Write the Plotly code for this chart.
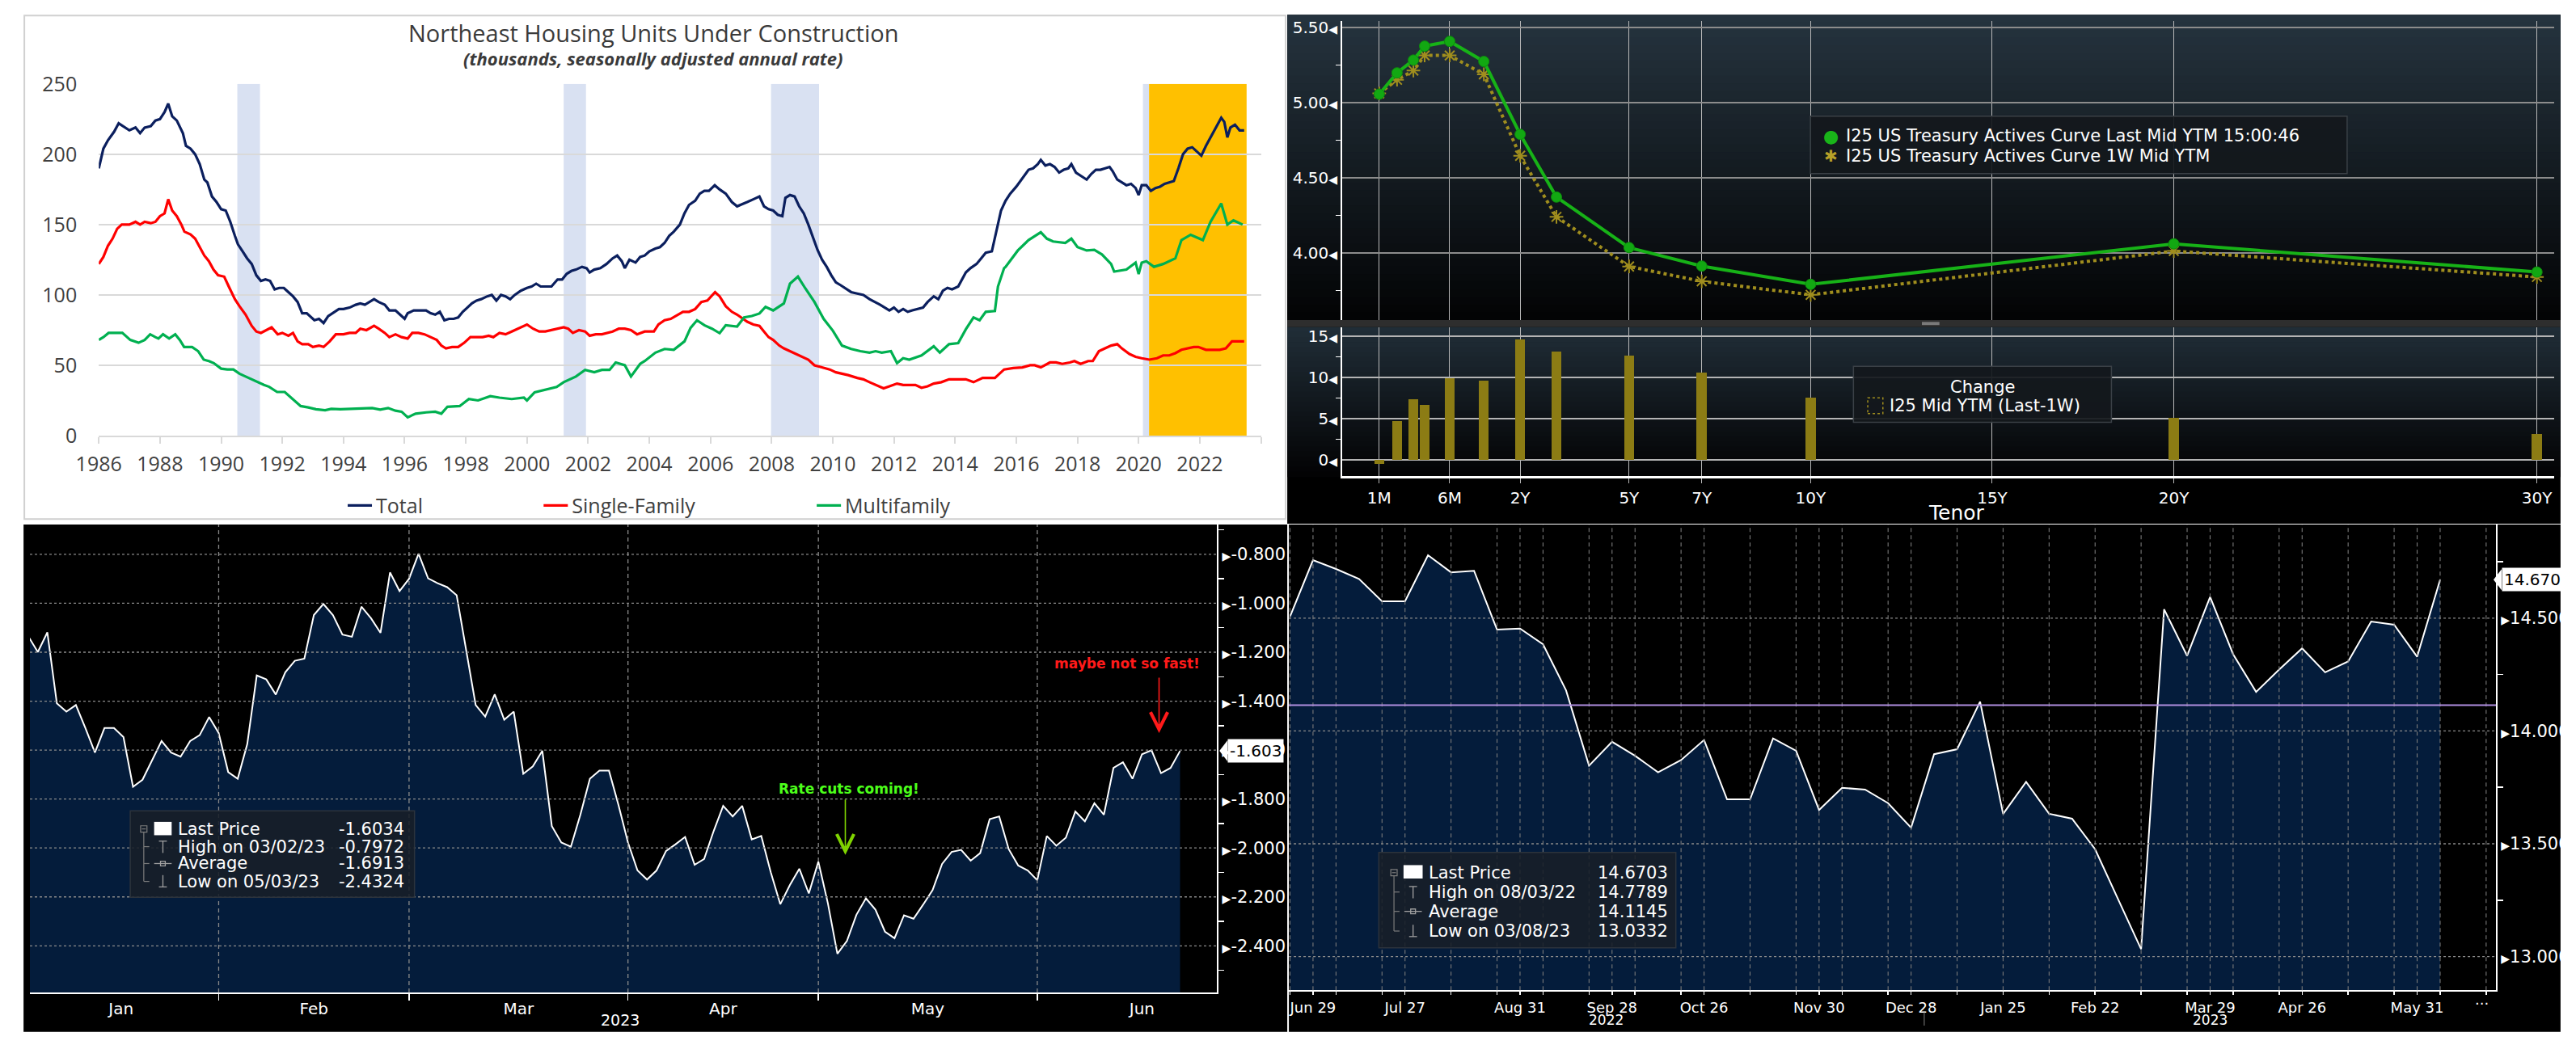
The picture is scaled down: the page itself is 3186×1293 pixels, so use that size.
import plotly.graph_objects as go
import pandas as pd

W, H = 3186, 1293          # size of the photographed window
OFF = 8                    # default page margin of the html body
WF, HF = W - 2 * OFF, H - 2 * OFF
BB = "DejaVu Sans"
XL = "Open Sans"

# ---------------- Panel 1 data: Northeast housing units under construction ----------------
total_pts = [(1986.0,190),(1986.15,204),(1986.3,210),(1986.5,216),(1986.65,222),(1986.8,220),(1987.0,217),(1987.2,219),
 (1987.35,215),(1987.5,219),(1987.7,220),(1987.85,224),(1988.0,225),(1988.15,230),(1988.27,236),(1988.4,227),(1988.55,224),
 (1988.75,215),(1988.85,206),(1989.0,204),(1989.15,200),(1989.3,193),(1989.45,182),(1989.55,180),(1989.7,170),(1989.85,166),
 (1990.0,161),(1990.15,160),(1990.3,152),(1990.45,142),(1990.55,136),(1990.7,131),(1990.85,126),(1991.0,122),(1991.15,114),
 (1991.3,110),(1991.45,111),(1991.6,110),(1991.75,104),(1991.9,105),(1992.05,105),(1992.2,102),(1992.35,99),(1992.5,95),
 (1992.65,87),(1992.8,87),(1992.95,84),(1993.05,82),(1993.2,83),(1993.35,80),(1993.5,85),(1993.7,88),(1993.85,90),(1994.0,90),
 (1994.2,91),(1994.4,93),(1994.55,94),(1994.7,93),(1994.85,95),(1995.0,97),(1995.15,95),(1995.35,93),(1995.5,89),(1995.7,89),
 (1995.85,86),(1996.0,83),(1996.1,87),(1996.3,89),(1996.5,89),(1996.7,89),(1996.85,87),(1997.0,86),(1997.15,88),(1997.3,82),
 (1997.45,83),(1997.6,83),(1997.75,84),(1997.9,88),(1998.05,91),(1998.2,94),(1998.35,96),(1998.5,97),(1998.7,99),(1998.85,100),
 (1999.0,96),(1999.15,100),(1999.3,99),(1999.45,97),(1999.6,100),(1999.8,103),(2000.0,105),(2000.15,106),(2000.3,108),
 (2000.45,106),(2000.6,106),(2000.8,106),(2001.0,111),(2001.15,111),(2001.3,115),(2001.45,117),(2001.6,118),(2001.8,120),
 (2001.95,119),(2002.05,116),(2002.2,118),(2002.4,119),(2002.6,122),(2002.8,126),(2002.95,128),(2003.1,124),(2003.2,119),
 (2003.35,125),(2003.55,123),(2003.7,127),(2003.85,128),(2004.0,131),(2004.2,133),(2004.35,134),(2004.5,137),(2004.65,142),
 (2004.8,145),(2005.0,150),(2005.15,158),(2005.3,164),(2005.5,167),(2005.65,172),(2005.8,174),(2005.95,174),(2006.14,178),
 (2006.3,175),(2006.5,172),(2006.7,166),(2006.87,163),(2007.0,164),(2007.2,166),(2007.4,168),(2007.6,170),(2007.75,163),
 (2007.9,161),(2008.05,160),(2008.2,157),(2008.35,156),(2008.45,169),(2008.6,171),(2008.75,170),(2008.9,163),(2009.05,158),
 (2009.2,150),(2009.35,141),(2009.5,132),(2009.65,125),(2009.8,120),(2009.95,114),(2010.1,109),(2010.25,107),(2010.4,105),
 (2010.6,102),(2010.8,101),(2011.0,100),(2011.2,97),(2011.4,95),(2011.55,93),(2011.7,91),(2011.85,89),(2012.0,91),(2012.15,88),
 (2012.3,90),(2012.45,88),(2012.6,89),(2012.8,90),(2012.95,91),(2013.1,95),(2013.3,99),(2013.45,97),(2013.6,103),(2013.75,105),
 (2013.9,104),(2014.1,106),(2014.25,112),(2014.35,116),(2014.5,119),(2014.7,122),(2014.85,126),(2015.0,130),(2015.2,131),
 (2015.35,146),(2015.5,160),(2015.65,167),(2015.8,172),(2016.0,177),(2016.2,183),(2016.4,189),(2016.55,190),(2016.7,193),
 (2016.8,196),(2016.95,192),(2017.1,193),(2017.25,191),(2017.4,187),(2017.55,189),(2017.7,190),(2017.8,193),(2017.95,187),
 (2018.1,185),(2018.3,182),(2018.45,186),(2018.6,189),(2018.75,189),(2018.9,190),(2019.05,191),(2019.15,188),(2019.3,182),
 (2019.45,180),(2019.6,178),(2019.75,179),(2019.9,176),(2020.0,171),(2020.1,178),(2020.25,178),(2020.4,174),(2020.55,176),
 (2020.7,177),(2020.85,179),(2021.0,180),(2021.15,181),(2021.3,190),(2021.45,200),(2021.6,204),(2021.75,205),(2021.9,202),
 (2022.05,199),(2022.2,206),(2022.35,212),(2022.5,218),(2022.7,226),(2022.8,223),(2022.9,212),(2023.0,219),(2023.15,221),
 (2023.3,217),(2023.45,217)]

single_pts = [(1986.0,122),(1986.15,127),(1986.3,135),(1986.45,140),(1986.6,147),(1986.75,150),(1987.0,150),(1987.2,152),
 (1987.35,150),(1987.5,152),(1987.7,151),(1987.85,152),(1988.0,156),(1988.15,158),(1988.27,168),(1988.4,160),(1988.55,156),
 (1988.7,150),(1988.8,145),(1989.0,143),(1989.15,140),(1989.3,134),(1989.45,128),(1989.6,124),(1989.75,118),(1989.9,114),
 (1990.1,113),(1990.25,106),(1990.45,97),(1990.6,92),(1990.8,86),(1991.0,78),(1991.15,74),(1991.3,73),(1991.5,75),(1991.65,77),
 (1991.85,72),(1992.0,73),(1992.2,71),(1992.35,73),(1992.5,67),(1992.65,65),(1992.85,65),(1993.0,63),(1993.2,64),(1993.35,63),
 (1993.55,67),(1993.75,72),(1994.0,72),(1994.2,73),(1994.4,73),(1994.55,76),(1994.75,75),(1995.0,78),(1995.15,76),(1995.35,73),
 (1995.5,70),(1995.7,72),(1995.9,70),(1996.1,69),(1996.25,73),(1996.45,73),(1996.65,72),(1996.85,70),(1997.05,68),(1997.2,64),
 (1997.35,62),(1997.55,63),(1997.75,63),(1997.95,66),(1998.15,70),(1998.35,70),(1998.55,70),(1998.75,71),(1998.9,70),
 (1999.1,73),(1999.3,72),(1999.5,74),(1999.7,76),(1999.85,77),(2000.0,79),(2000.2,76),(2000.4,74),(2000.6,74),(2000.8,75),
 (2001.0,76),(2001.2,77),(2001.35,76),(2001.5,73),(2001.7,75),(2001.9,74),(2002.05,71),(2002.25,72),(2002.45,72),(2002.6,73),
 (2002.8,74),(2003.0,76),(2003.2,76),(2003.4,75),(2003.6,72),(2003.85,74),(2004.15,74),(2004.3,79),(2004.5,82),(2004.7,83),
 (2004.85,85),(2005.1,88),(2005.3,88),(2005.5,90),(2005.7,95),(2005.9,96),(2006.15,102),(2006.3,99),(2006.5,92),(2006.7,88),
 (2006.87,86),(2007.05,83),(2007.2,81),(2007.4,79),(2007.6,78),(2007.75,74),(2007.9,70),(2008.05,68),(2008.25,64),(2008.4,62),
 (2008.6,60),(2008.8,58),(2009.0,56),(2009.2,54),(2009.4,50),(2009.55,49),(2009.75,48),(2009.9,47),(2010.1,45),(2010.3,44),
 (2010.5,43),(2010.8,41),(2011.0,40),(2011.2,38),(2011.4,36),(2011.55,35),(2011.66,33.6),(2011.85,35),(2012.1,37),(2012.3,36),
 (2012.5,36),(2012.7,36),(2012.9,34),(2013.1,35),(2013.3,37),(2013.55,38),(2013.8,40),(2014.05,40),(2014.35,40),(2014.6,38),
 (2014.9,41),(2015.3,41),(2015.6,47),(2015.9,48),(2016.2,48.5),(2016.45,50),(2016.6,50),(2016.8,48.5),(2017.1,52),(2017.3,52),
 (2017.5,51),(2017.75,52),(2017.9,53),(2018.1,51),(2018.35,53),(2018.5,53),(2018.7,60),(2018.9,62),(2019.1,64),(2019.3,65),
 (2019.45,62),(2019.7,58),(2019.9,56),(2020.1,55),(2020.35,54),(2020.6,55),(2020.8,57),(2021.0,57),(2021.2,58.6),(2021.4,61),
 (2021.6,62),(2021.8,63),(2021.95,63),(2022.2,61),(2022.45,61),(2022.65,61),(2022.85,62),(2023.05,67),(2023.25,67),(2023.45,67)]

multi_pts = [(1986.0,68),(1986.15,70),(1986.32,73),(1986.55,73),(1986.77,73),(1987.03,68),(1987.2,67),(1987.3,66),(1987.5,68),
 (1987.68,72),(1987.85,70),(1987.95,69),(1988.1,72),(1988.3,69),(1988.5,72),(1988.65,68),(1988.79,63),(1989.05,63),(1989.25,60),
 (1989.43,54),(1989.6,53),(1989.76,51.5),(1990.0,47.6),(1990.2,47),(1990.4,47),(1990.6,44),(1990.8,42),(1991.0,40),(1991.2,37.5),
 (1991.4,36),(1991.57,34.7),(1991.83,31),(1992.08,31),(1992.3,27),(1992.6,21),(1992.85,20),(1993.1,18.7),(1993.4,18),(1993.6,19),
 (1993.9,18.7),(1994.2,19),(1994.55,19.6),(1994.94,19.6),(1995.2,18.5),(1995.46,19.6),(1995.7,17.7),(1995.9,17),(1996.1,13),
 (1996.36,15.6),(1996.7,16.5),(1997.0,17),(1997.2,15.6),(1997.4,20.5),(1997.8,21),(1998.1,26),(1998.4,25),(1998.8,28),(1999.1,27),
 (1999.5,26),(1999.9,27),(2000.0,25),(2000.25,30.8),(2000.6,32.6),(2000.97,34.6),(2001.2,38),(2001.6,42),(2001.9,46.7),(2002.2,45),
 (2002.45,46.7),(2002.7,46.7),(2002.9,52),(2003.2,50),(2003.4,42),(2003.7,51),(2003.85,53),(2004.2,59),(2004.5,61.6),(2004.8,61),
 (2005.15,67),(2005.35,76.6),(2005.56,82),(2005.8,78.5),(2006.05,76),(2006.3,72.8),(2006.5,78.5),(2006.87,77.5),(2007.1,84),
 (2007.35,85),(2007.6,86.8),(2007.8,91.5),(2008.05,89),(2008.4,94),(2008.6,108),(2008.86,113),(2009.1,104.7),(2009.4,95),
 (2009.7,83),(2010.0,74.6),(2010.3,64),(2010.6,61.6),(2010.9,60),(2011.2,59),(2011.4,60),(2011.6,59),(2011.9,60),(2012.1,51.5),
 (2012.3,55),(2012.5,54),(2012.9,57),(2013.3,63.5),(2013.5,59),(2013.8,65),(2014.1,65.7),(2014.35,75.6),(2014.6,84),(2014.8,82),
 (2015.0,88),(2015.3,88.6),(2015.4,106),(2015.6,119),(2015.65,120),(2015.85,126),(2016.05,131.6),(2016.4,139),(2016.8,144.6),
 (2017.0,140),(2017.2,138),(2017.6,137),(2017.8,140),(2018.0,134),(2018.3,131.6),(2018.55,132),(2018.8,128.8),(2019.1,122),
 (2019.2,116.6),(2019.6,118),(2019.9,123),(2020.0,114.8),(2020.1,123),(2020.25,124),(2020.5,120),(2020.8,122),(2021.2,126),
 (2021.4,139),(2021.7,142.8),(2022.1,139),(2022.35,152),(2022.7,165),(2022.9,150),(2023.1,153),(2023.4,150)]

recessions = [(1990.53, 1991.27), (2001.2, 2001.93), (2007.98, 2009.55), (2020.14, 2020.34)]
highlight_span = (2020.34, 2023.53)
year_ticks = list(range(1986, 2025, 2))

# ---------------- Panel 2 data: US Treasury actives curve ----------------
tenors = ['1M', '2M', '3M', '4M', '6M', '1Y', '2Y', '3Y', '5Y', '7Y', '10Y', '20Y', '30Y']
tenor_axis_pos = [-1.88, -1.39, -0.94, -0.63, 0.06, 1, 2, 3, 5, 7, 10, 20, 30]
ytm_last = [5.058, 5.200, 5.285, 5.378, 5.410, 5.276, 4.790, 4.372, 4.035, 3.912, 3.790, 4.060, 3.872]
ytm_1w = [5.063, 5.154, 5.215, 5.316, 5.316, 5.190, 4.647, 4.240, 3.909, 3.810, 3.720, 4.012, 3.839]
change_bp = [-0.5, 4.7, 7.3, 6.7, 9.9, 9.6, 14.6, 13.1, 12.6, 10.6, 7.5, 5.1, 3.1]
tenor_tick_labels = ['1M', '6M', '2Y', '5Y', '7Y', '10Y', '15Y', '20Y', '30Y']
tenor_tick_pos = [-1.88, 0.06, 2, 5, 7, 10, 15, 20, 30]
curve_legend = ['I25 US Treasury Actives Curve Last Mid YTM 15:00:46', 'I25 US Treasury Actives Curve 1W Mid YTM']

# ---------------- Panel 3 data: daily series, 2023 ----------------
bl_start = "2023-01-04"
bl_values = [-1.135, -1.199, -1.119, -1.409, -1.443, -1.416, -1.510, -1.610, -1.510, -1.510,
 -1.547, -1.750, -1.721, -1.643, -1.563, -1.610, -1.627, -1.563, -1.539, -1.465,
 -1.530, -1.690, -1.717, -1.576, -1.295, -1.311, -1.373, -1.282, -1.235, -1.226,
 -1.048, -1.003, -1.048, -1.128, -1.137, -1.014, -1.061, -1.121, -0.874, -0.950,
 -0.900, -0.7972, -0.898, -0.918, -0.934, -0.967, -1.188, -1.416, -1.463, -1.372,
 -1.476, -1.443, -1.697, -1.667, -1.603, -1.911, -1.978, -1.995, -1.864, -1.717,
 -1.684, -1.684, -1.824, -1.978, -2.092, -2.129, -2.092, -2.012, -1.985, -1.955,
 -2.069, -2.045, -1.931, -1.828, -1.871, -1.828, -1.965, -1.951, -2.099, -2.230,
 -2.152, -2.085, -2.186, -2.056, -2.226, -2.4324, -2.380, -2.273, -2.206, -2.252,
 -2.342, -2.369, -2.275, -2.289, -2.232, -2.172, -2.065, -2.016, -2.008, -2.052,
 -2.021, -1.882, -1.871, -2.005, -2.072, -2.092, -2.132, -1.951, -1.991, -1.958,
 -1.851, -1.891, -1.817, -1.864, -1.673, -1.650, -1.717, -1.617, -1.601, -1.694,
 -1.673, -1.6034]
bl_ticks = [-2.4, -2.2, -2.0, -1.8, -1.6, -1.4, -1.2, -1.0, -0.8]
bl_minor = [-2.5, -2.3, -2.1, -1.9, -1.7, -1.5, -1.3, -1.1, -0.9, -0.7]
bl_legend_labels = ['Last Price', 'High on 03/02/23', 'Average', 'Low on 05/03/23']
bl_legend_values = ['-1.6034', '-0.7972', '-1.6913', '-2.4324']

# ---------------- Panel 4 data: weekly series, 2022-2023 ----------------
br_start = "2022-06-22"
br_values = [14.507, 14.757, 14.718, 14.674, 14.575, 14.575, 14.7789, 14.703, 14.710, 14.449,
 14.454, 14.384, 14.180, 13.846, 13.952, 13.890, 13.817, 13.871, 13.960, 13.697,
 13.697, 13.967, 13.912, 13.650, 13.748, 13.740, 13.680, 13.571, 13.897, 13.919,
 14.130, 13.632, 13.774, 13.633, 13.611, 13.476, 13.254, 13.0332, 14.539, 14.333,
 14.594, 14.340, 14.173, 14.272, 14.366, 14.260, 14.308, 14.485, 14.471, 14.329, 14.6703]
br_label_dates = ['2022-06-29', '2022-07-27', '2022-08-31', '2022-09-28', '2022-10-26', '2022-11-30',
 '2022-12-28', '2023-01-25', '2023-02-22', '2023-03-29', '2023-04-26', '2023-05-31']
br_tick_idx = [0, 1, 2, 4, 5, 7, 9, 10, 11, 13, 14, 15, 17, 18, 20, 22, 23, 24, 26, 27, 29, 31, 33,
 35, 37, 39, 40, 41, 43, 44, 46, 48, 49, 50, 52]
br_ticks = [13.0, 13.5, 14.0, 14.5]
br_minor = [13.25, 13.75, 14.25, 14.75]
br_average = 14.1145
br_legend_labels = ['Last Price', 'High on 08/03/22', 'Average', 'Low on 03/08/23']
br_legend_values = ['14.6703', '14.7789', '14.1145', '13.0332']

# ---------------- helpers (positions given in window pixels) ----------------
def PX(x):
    return (x - OFF) / WF

def PY(y):
    return 1 - (y - OFF) / HF

def clip_range(p0, p1, v0, v1, q0, q1):
    """Axis spanning window pixels p0..p1 with values v0..v1, visible only on q0..q1."""
    k = (v1 - v0) / (p1 - p0)
    return [v0 + (q0 - p0) * k, v0 + (q1 - p0) * k]

shapes = []
annotations = []

def rect(x0, y0, x1, y1, fill, line_color=None, lw=0, layer='below', dash=None):
    ln = dict(width=lw, color=line_color or fill)
    if dash:
        ln['dash'] = dash
    shapes.append(dict(type='rect', xref='paper', yref='paper', x0=PX(x0), x1=PX(x1), y0=PY(y1), y1=PY(y0),
                       fillcolor=fill, line=ln, layer=layer))

def pline(x0, y0, x1, y1, color, lw=1, layer='above', dash=None):
    ln = dict(width=lw, color=color)
    if dash:
        ln['dash'] = dash
    shapes.append(dict(type='line', xref='paper', yref='paper', x0=PX(x0), x1=PX(x1), y0=PY(y0), y1=PY(y1),
                       line=ln, layer=layer))

def text(t, x, y, size, color, family=BB, xanchor='center', yanchor='middle', **kw):
    annotations.append(dict(text=t, x=PX(x), y=PY(y), xref='paper', yref='paper', showarrow=False,
                            font=dict(size=size, color=color, family=family), xanchor=xanchor, yanchor=yanchor, **kw))

def gradient(x0, x1, y0, y1, c0, c1, n):
    for k in range(n):
        t = k / (n - 1)
        col = tuple(round(c0[j] + (c1[j] - c0[j]) * t) for j in range(3))
        ya = y0 + (y1 - y0) * k / n
        yb = y0 + (y1 - y0) * (k + 1) / n + 0.8
        rect(x0, ya, x1, yb, 'rgb(%d,%d,%d)' % col)

# ---------------- backgrounds ----------------
rect(1, 1, 1585, 641, 'white', '#d0d0d0', 2)
rect(1587, 0, W, 647, 'black')
gradient(1587, W, 0, 388, (37, 51, 62), (3, 4, 5), 40)
rect(1587, 388, W, 397, '#2e2e2e')
rect(2384, 390.5, 2406, 394.5, '#7a7a7a')
gradient(1587, W, 397, 587, (32, 45, 55), (3, 3, 4), 30)
rect(0, 648, 1587, H, 'black')
rect(1589, 648, W, H, 'black')

fig = go.Figure()

# ---------------- Panel 1 traces ----------------
for s in recessions:
    shapes.append(dict(type='rect', xref='x', yref='y', x0=s[0], x1=s[1], y0=0, y1=250,
                       fillcolor='#d9e1f2', line=dict(width=0), layer='below'))
shapes.append(dict(type='rect', xref='x', yref='y', x0=highlight_span[0], x1=highlight_span[1], y0=0, y1=250,
                   fillcolor='#ffc000', line=dict(width=0), layer='below'))

for pts, name, col, lg in [(total_pts, 'Total', '#0b1f5e', 'legend'),
                           (single_pts, 'Single-Family', '#ff0000', 'legend2'),
                           (multi_pts, 'Multifamily', '#00b050', 'legend3')]:
    fig.add_trace(go.Scatter(x=[p[0] for p in pts], y=[p[1] for p in pts], mode='lines', name=name,
                             line=dict(color=col, width=3.2), xaxis='x', yaxis='y', legend=lg))

text('Northeast Housing Units Under Construction', 791, 23, 29, '#3a3a3a', family=XL)
text('<b><i>(thousands, seasonally adjusted annual rate)</i></b>', 791, 55, 22, '#3a3a3a', family=XL)

# ---------------- Panel 2 traces ----------------
fig.add_trace(go.Scatter(x=tenor_axis_pos, y=ytm_1w, mode='lines+markers',
                         line=dict(color='#a08e1e', width=4, dash='dot'),
                         marker=dict(symbol='asterisk-open', size=14, line=dict(width=2, color='#b8a028')),
                         xaxis='x2', yaxis='y2', showlegend=False))
fig.add_trace(go.Scatter(x=tenor_axis_pos, y=ytm_last, mode='lines+markers',
                         line=dict(color='#17b217', width=4),
                         marker=dict(size=13, color='#12a812', line=dict(width=1, color='#0d8a0d')),
                         xaxis='x2', yaxis='y2', showlegend=False))
fig.add_trace(go.Bar(x=tenor_axis_pos, y=change_bp, width=0.28, marker=dict(color='#8c7c14', line=dict(width=0)),
                     xaxis='x3', yaxis='y3', showlegend=False))

rect(2244, 129, 2918, 202, 'rgba(20,24,28,0.92)', '#3a4046', 1.5, layer='above')
text('●', 2270, 154, 22, '#19b419')
text(curve_legend[0], 2286, 154, 21, 'white', xanchor='left')
text('✱', 2270, 180, 20, '#b8a028')
text(curve_legend[1], 2286, 180, 21, 'white', xanchor='left')

rect(2298, 447, 2622, 518, 'rgba(20,24,28,0.92)', '#3a4046', 1.5, layer='above')
text('Change', 2460, 473, 21, 'white')
rect(2316, 487, 2335, 507, 'rgba(0,0,0,0)', '#a08e1e', 1.5, layer='above', dash='dot')
text('I25 Mid YTM (Last-1W)', 2341, 497, 21, 'white', xanchor='left')
text('Tenor', 2428, 633, 25, 'white')

# ---------------- Panel 3 traces ----------------
cal3 = pd.bdate_range(bl_start, "2023-07-31")
bl_dates = pd.bdate_range(bl_start, periods=len(bl_values))
pos3 = {d: i for i, d in enumerate(cal3)}
bl_x = [pos3[d] for d in bl_dates]
X4 = [-0.5, 124.9]                       # business-day index spanned by window pixels 0..1499
X4_vis = clip_range(0, 1499, X4[0], X4[1], OFF, 1499)
Y4 = [-2.591, -0.678]
month_starts = [i for i in range(1, len(cal3)) if cal3[i].month != cal3[i - 1].month]
bounds = [X4[0]] + month_starts
month_centers = [(bounds[k] + bounds[k + 1]) / 2 for k in range(len(bounds) - 1)]
month_names = [pd.Timestamp(2023, m + 1, 1).strftime('%b') for m in range(len(month_centers))]

fig.add_trace(go.Scatter(x=bl_x, y=[Y4[0]] * len(bl_x), mode='lines', line=dict(width=0, color='rgba(0,0,0,0)'),
                         hoverinfo='skip', xaxis='x4', yaxis='y4', showlegend=False))
fig.add_trace(go.Scatter(x=bl_x, y=bl_values, mode='lines', fill='tonexty', fillcolor='#041c3b',
                         line=dict(color='white', width=2), xaxis='x4', yaxis='y4', showlegend=False))

for v in bl_ticks:
    shapes.append(dict(type='line', xref='x4 domain', yref='y4', x0=0, x1=1, y0=v, y1=v,
                       line=dict(color='#8a8a8a', width=1.3, dash='3px,3px'), layer='above'))
for b in month_starts:
    if b < X4[1]:
        shapes.append(dict(type='line', xref='x4', yref='y4 domain', x0=b, x1=b, y0=0, y1=1,
                           line=dict(color='#8a8a8a', width=1.3, dash='5px,4px'), layer='above'))

# current value tag
annotations.append(dict(text='%.3f' % bl_values[-1], x=PX(1512), y=bl_values[-1], xref='paper', yref='y4',
                        showarrow=False, xanchor='left', yanchor='middle', bgcolor='white', borderpad=2,
                        font=dict(family=BB, size=20, color='black')))
shapes.append(dict(type='path', xref='paper', yref='y4', xsizemode='pixel', ysizemode='pixel',
                   xanchor=PX(1512), yanchor=bl_values[-1], path='M -10 0 L 0 13 L 0 -13 Z',
                   fillcolor='white', line=dict(width=0), layer='above'))

# annotations on the chart
text('<b>Rate cuts coming!</b>', 1037, 984, 17, '#4cff1a')
annotations.append(dict(text='', x=PX(1032), y=PY(1068), xref='paper', yref='paper', ax=0, ay=-70,
                        axref='pixel', ayref='pixel', showarrow=True, arrowhead=5, arrowsize=2.6,
                        arrowwidth=1.6, arrowcolor='#7fd400'))
text('<b>maybe not so fast!</b>', 1386, 825, 17, '#ff1a1a')
annotations.append(dict(text='', x=PX(1426), y=PY(913), xref='paper', yref='paper', ax=0, ay=-70,
                        axref='pixel', ayref='pixel', showarrow=True, arrowhead=5, arrowsize=2.6,
                        arrowwidth=1.6, arrowcolor='#ff1a1a'))
annotations.append(dict(text='2023', x=(X4[0] + X4[1]) / 2, y=PY(1278), xref='x4', yref='paper',
                        showarrow=False, yanchor='middle', font=dict(family=BB, size=19, color='white')))


def info_box(box, rows, label_x, value_x, labels, values, sq, tree_x):
    rect(box[0], box[1], box[2], box[3], 'rgba(24,31,40,0.88)', '#2c333c', 1.5, layer='above')
    g = '#7c7c7c'
    pline(tree_x, rows[0] + 4, tree_x, rows[3], g, 1.2)
    for r in rows[1:]:
        pline(tree_x, r, tree_x + 7, r, g, 1.2)
    rect(tree_x - 4, rows[0] - 4, tree_x + 4, rows[0] + 4, 'rgba(0,0,0,0)', g, 1.2, layer='above')
    pline(tree_x - 2.5, rows[0], tree_x + 2.5, rows[0], g, 1.2)
    rect(sq[0], sq[1], sq[2], sq[3], 'white', 'white', 0, layer='above')
    xc = (sq[0] + sq[2]) / 2
    pline(xc, rows[1] - 7, xc, rows[1] + 8, '#a0a0a0', 1.3)
    pline(xc - 5, rows[1] - 7, xc + 5, rows[1] - 7, '#a0a0a0', 1.3)
    pline(xc - 11, rows[2], xc + 11, rows[2], '#a0a0a0', 1.3)
    rect(xc - 3, rows[2] - 3, xc + 3, rows[2] + 3, 'rgba(0,0,0,0)', '#a0a0a0', 1.3, layer='above')
    pline(xc, rows[3] - 8, xc, rows[3] + 7, '#a0a0a0', 1.3)
    pline(xc - 5, rows[3] + 7, xc + 5, rows[3] + 7, '#a0a0a0', 1.3)
    for r, lab, val in zip(rows, labels, values):
        text(lab, label_x, r, 21, 'white', xanchor='left')
        text(val, value_x, r, 21, 'white', xanchor='left')


info_box((134, 1012, 491, 1122), [1035, 1057.5, 1079, 1101.7], 192, 394, bl_legend_labels, bl_legend_values,
         (164, 1026, 186, 1043), 151)

# ---------------- Panel 4 traces ----------------
br_dates = pd.date_range(br_start, periods=len(br_values), freq='7D')
br_x = list(range(len(br_values)))
X5 = [-0.05, 52.43]
Y5 = [12.851, 14.915]
label_idx = [list(br_dates).index(pd.Timestamp(d)) for d in br_label_dates]
label_txt = [pd.Timestamp(d).strftime('%b %d') for d in br_label_dates]
minor_idx = [i for i in br_tick_idx if i not in label_idx]
year_break = (pd.Timestamp('2023-01-01') - br_dates[0]).days / 7

fig.add_trace(go.Scatter(x=br_x, y=[Y5[0]] * len(br_x), mode='lines', line=dict(width=0, color='rgba(0,0,0,0)'),
                         hoverinfo='skip', xaxis='x5', yaxis='y5', showlegend=False))
fig.add_trace(go.Scatter(x=br_x, y=br_values, mode='lines', fill='tonexty', fillcolor='#041c3b',
                         line=dict(color='white', width=2), xaxis='x5', yaxis='y5', showlegend=False))

for v in br_ticks:
    shapes.append(dict(type='line', xref='x5 domain', yref='y5', x0=0, x1=1, y0=v, y1=v,
                       line=dict(color='#8a8a8a', width=1.3, dash='3px,3px'), layer='above'))
for i in br_tick_idx:
    if X5[0] < i < X5[1]:
        shapes.append(dict(type='line', xref='x5', yref='y5 domain', x0=i, x1=i, y0=0, y1=1,
                           line=dict(color='#7a7a7a', width=1.1, dash='5px,4px'), layer='above'))
shapes.append(dict(type='line', xref='x5 domain', yref='y5', x0=0, x1=1, y0=br_average, y1=br_average,
                   line=dict(color='#b08ee0', width=2), layer='above'))
shapes.append(dict(type='line', xref='x5', yref='paper', x0=year_break, x1=year_break, y0=0, y1=PY(1268),
                   line=dict(color='#6a6a6a', width=1.2), layer='above'))

annotations.append(dict(text='%.3f' % br_values[-1], x=PX(3112), y=br_values[-1], xref='paper', yref='y5',
                        showarrow=False, xanchor='left', yanchor='middle', bgcolor='white', borderpad=2,
                        font=dict(family=BB, size=20, color='black')))
shapes.append(dict(type='path', xref='paper', yref='y5', xsizemode='pixel', ysizemode='pixel',
                   xanchor=PX(3112), yanchor=br_values[-1], path='M -10 0 L 0 13 L 0 -13 Z',
                   fillcolor='white', line=dict(width=0), layer='above'))
for yr, c in [('2022', (X5[0] + year_break) / 2), ('2023', (year_break + X5[1]) / 2)]:
    annotations.append(dict(text=yr, x=c, y=PY(1278), xref='x5', yref='paper', showarrow=False,
                            yanchor='middle', font=dict(family=BB, size=17, color='white')))
annotations.append(dict(text='...', x=51.8, y=PY(1252), xref='x5', yref='paper', showarrow=False,
                        yanchor='middle', font=dict(family=BB, size=18, color='white')))

info_box((1702, 1065, 2075, 1186), [1090.6, 1115.2, 1139.8, 1164.8], 1763, 1975, br_legend_labels,
         br_legend_values, (1733, 1081, 1757, 1098), 1721)

# ---------------- axes ----------------
xl_font = dict(family=XL, size=25, color='#404040')
bb_font = dict(family=BB, size=21, color='white')
bb_font_x = dict(family=BB, size=20, color='white')
tri_l = '<span style="font-size:14px">◀</span>'
tri_r = '<span style="font-size:14px">▶</span>'

TEN_RANGE = clip_range(1656, 3186, -2.9, 30.65, 1656, W - OFF)
Y2_RANGE = clip_range(388, 0, 3.5525, 5.5876, 388, OFF)

layout_axes = dict(
    xaxis=dict(domain=[PX(94.5), PX(1554)], range=[1986, 2024], tickmode='array', tickvals=year_ticks,
               ticktext=[str(y) if y < 2024 else '' for y in year_ticks], ticks='outside', ticklen=8,
               tickwidth=2, tickcolor='#d9d9d9', showline=True, linecolor='#d9d9d9', linewidth=2,
               showgrid=False, zeroline=False, tickfont=xl_font, anchor='y', ticklabelstandoff=4),
    yaxis=dict(domain=[PY(535), PY(88)], range=[0, 250], tickmode='array', tickvals=[0, 50, 100, 150, 200, 250],
               showgrid=True, gridcolor='#d9d9d9', gridwidth=2, zeroline=False, showline=False, ticks='',
               tickfont=xl_font, anchor='x', ticklabelstandoff=26),
    xaxis2=dict(domain=[PX(1656), 1], range=TEN_RANGE, tickmode='array', tickvals=tenor_tick_pos,
                showticklabels=False, ticks='', showgrid=True, gridcolor='#b8b8b8', gridwidth=1,
                zeroline=False, showline=False, anchor='y2'),
    yaxis2=dict(domain=[PY(388), 1], range=Y2_RANGE, tickmode='array', tickvals=[4.0, 4.5, 5.0, 5.5],
                ticktext=['%.2f%s' % (v, tri_l) for v in [4.0, 4.5, 5.0, 5.5]], showgrid=True,
                gridcolor='#8c8c8c', gridwidth=2, zeroline=False, showline=True, linecolor='white', linewidth=2,
                ticks='', minor=dict(tickmode='array', tickvals=[3.75, 4.25, 4.75, 5.25], ticks='outside',
                                     ticklen=6, tickcolor='white', tickwidth=1, showgrid=False),
                tickfont=bb_font_x, anchor='x2', ticklabelstandoff=0),
    xaxis3=dict(domain=[PX(1656), 1], range=TEN_RANGE, tickmode='array', tickvals=tenor_tick_pos,
                ticktext=tenor_tick_labels, ticks='outside', ticklen=6, tickcolor='#b8b8b8', showgrid=True,
                gridcolor='#b8b8b8', gridwidth=1, showline=True, linecolor='white', linewidth=3,
                zeroline=False, tickfont=bb_font_x, anchor='y3', ticklabelstandoff=1),
    yaxis3=dict(domain=[PY(586.7), PY(397)], range=[-1.96, 16.07], tickmode='array', tickvals=[0, 5, 10, 15],
                ticktext=['%d%s' % (v, tri_l) for v in [0, 5, 10, 15]], showgrid=True, gridcolor='#b4b4b4',
                gridwidth=2, zeroline=False, showline=True, linecolor='white', linewidth=2, ticks='',
                minor=dict(tickmode='array', tickvals=[2.5, 7.5, 12.5], ticks='outside', ticklen=6,
                           tickcolor='white', tickwidth=1, showgrid=False),
                tickfont=bb_font_x, anchor='x3', ticklabelstandoff=0),
    xaxis4=dict(domain=[PX(OFF), PX(1499)], range=X4_vis, tickmode='array', tickvals=month_centers,
                ticktext=month_names, ticks='', showgrid=False, zeroline=False, showline=True, linecolor='white',
                linewidth=2,
                minor=dict(tickmode='array', tickvals=[b for b in month_starts if b < X4[1]], ticks='outside',
                           ticklen=8, tickcolor='white', tickwidth=1.5, showgrid=False),
                tickfont=dict(family=BB, size=20, color='white'), anchor='y4', ticklabelstandoff=1),
    yaxis4=dict(domain=[PY(1243), PY(648)], range=Y4, side='right', tickmode='array', tickvals=bl_ticks,
                ticktext=['%s%.3f' % (tri_r, v) for v in bl_ticks], showgrid=False, zeroline=False,
                showline=True, linecolor='white', linewidth=2, ticks='',
                minor=dict(tickmode='array', tickvals=bl_minor, ticks='outside', ticklen=7, tickcolor='white',
                           tickwidth=1.5, showgrid=False),
                tickfont=bb_font, anchor='x4', ticklabelstandoff=0),
    xaxis5=dict(domain=[PX(1589), PX(3105)], range=X5, tickmode='array', tickvals=label_idx, ticktext=label_txt,
                ticks='outside', ticklen=4, tickcolor='white', tickwidth=1.5, showgrid=False, zeroline=False,
                showline=True, linecolor='white', linewidth=2,
                minor=dict(tickmode='array', tickvals=minor_idx, ticks='outside', ticklen=4, tickcolor='white',
                           tickwidth=1.5, showgrid=False),
                tickfont=dict(family=BB, size=18, color='white'), anchor='y5', ticklabelstandoff=0),
    yaxis5=dict(domain=[PY(1240), PY(648)], range=Y5, side='right', tickmode='array', tickvals=br_ticks,
                ticktext=['%s%.3f' % (tri_r, v) for v in br_ticks], showgrid=False, zeroline=False,
                showline=True, linecolor='white', linewidth=2, ticks='',
                minor=dict(tickmode='array', tickvals=br_minor, ticks='outside', ticklen=7, tickcolor='white',
                           tickwidth=1.5, showgrid=False),
                tickfont=bb_font, anchor='x5', ticklabelstandoff=0),
)

leg_common = dict(orientation='h', yanchor='middle', xanchor='left', bgcolor='rgba(0,0,0,0)',
                  font=dict(family=XL, size=25, color='#404040'), y=PY(624))

fig.update_layout(
    width=WF, height=HF, margin=dict(l=0, r=0, t=0, b=0, pad=0), autosize=False,
    paper_bgcolor='white', plot_bgcolor='rgba(0,0,0,0)', showlegend=True,
    legend=dict(x=PX(402), **leg_common),
    legend2=dict(x=PX(648), **leg_common),
    legend3=dict(x=PX(991), **leg_common),
    shapes=shapes, annotations=annotations, bargap=0, hovermode=False,
    **layout_axes
)

fig.write_html("out.html", include_plotlyjs=True, config={'displayModeBar': False, 'staticPlot': True})
